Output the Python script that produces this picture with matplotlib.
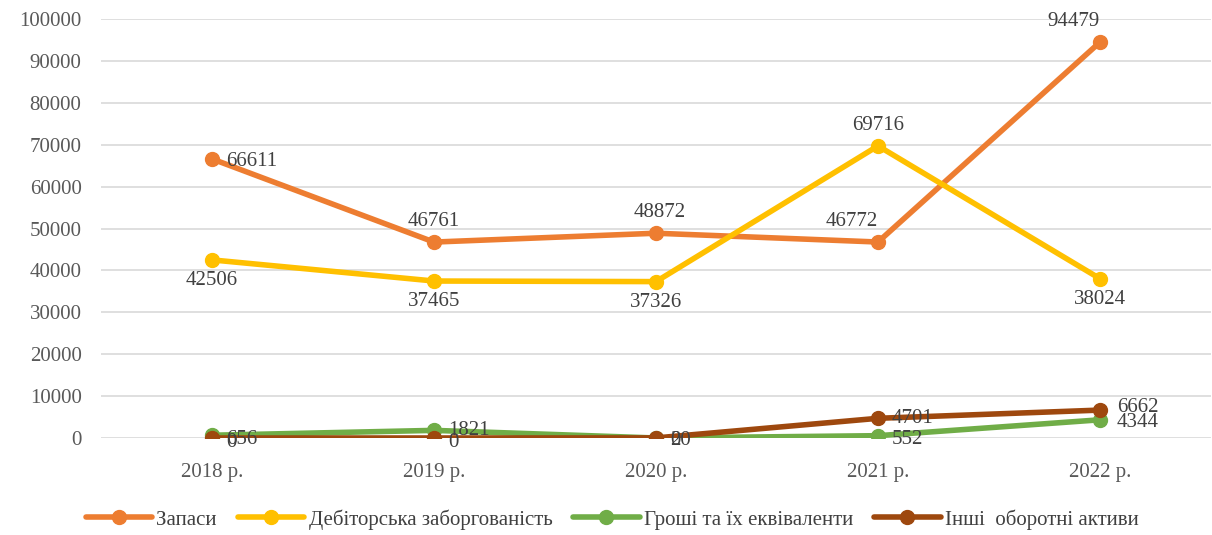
import matplotlib
matplotlib.use("Agg")
import matplotlib.pyplot as plt

years = ["2018 р.", "2019 р.", "2020 р.", "2021 р.", "2022 р."]
zapasy = [66611, 46761, 48872, 46772, 94479]
debit = [42506, 37465, 37326, 69716, 38024]
groshi = [656, 1821, 0, 552, 4344]
inshi = [0, 0, 20, 4701, 6662]

names = ["Запаси", "Дебіторська заборгованість", "Гроші та їх еквіваленти", "Інші  оборотні активи"]
colors = ["#ED7D31", "#FFC000", "#70AD47", "#9E480E"]

# label offsets in points (dx, dy, ha, va)
offs = [
    [(10, -2, "left", "center"), (0, 8, "center", "bottom"), (3, 8, "center", "bottom"), (0, 8, "right", "bottom"), (0, 8, "right", "bottom")],
    [(0, -8, "center", "top"), (0, -8, "center", "top"), (0, -8, "center", "top"), (0, 8, "center", "bottom"), (0, -8, "center", "top")],
    [(10, -3, "left", "center"), (10, 0, "left", "center"), (10, -2, "left", "center"), (10, -3, "left", "center"), (12, -2, "left", "center")],
    [(10, -3, "left", "center"), (10, -3, "left", "center"), (10, -2, "left", "center"), (10, 0, "left", "center"), (12, 2, "left", "center")],
]

plt.rcParams["font.family"] = ["Liberation Serif", "DejaVu Serif"]
fig = plt.figure(figsize=(12.12, 5.35), dpi=100)
ax = fig.add_axes([101 / 1212, 97 / 535, 1110 / 1212, 419 / 535])

x = list(range(len(years)))
series = [zapasy, debit, groshi, inshi]
for i in range(len(series)):
    ax.plot(x, series[i], color=colors[i], lw=4, marker="o", ms=10, label=names[i], zorder=3 + i * 0.1,
            solid_capstyle="round")
for i in range(len(series)):
    for j, v in enumerate(series[i]):
        dx, dy, ha, va = offs[i][j]
        ax.annotate(str(v), (j, v), xytext=(dx, dy), textcoords="offset points", ha=ha, va=va,
                    fontsize=15, color="#404040", zorder=10)

ax.set_xlim(-0.5, 4.5)
ax.set_ylim(0, 100000)
ax.set_yticks(range(0, 100001, 10000))
ax.set_xticks(x)
ax.set_xticklabels(years)
ax.tick_params(axis="both", length=0, labelsize=15, labelcolor="#595959")
ax.tick_params(axis="x", pad=18)
ax.tick_params(axis="y", pad=14)
ax.grid(axis="y", color="#D9D9D9", lw=1.2)
ax.set_axisbelow(True)
for s in ax.spines.values():
    s.set_visible(False)

leg = fig.legend(loc="lower center", bbox_to_anchor=(0.505, -0.025), ncol=4, frameon=False,
                 fontsize=15, handlelength=3.2, columnspacing=1.0, handletextpad=0.2)
for t in leg.get_texts():
    t.set_color("#404040")

fig.savefig("out.png", dpi=100)
